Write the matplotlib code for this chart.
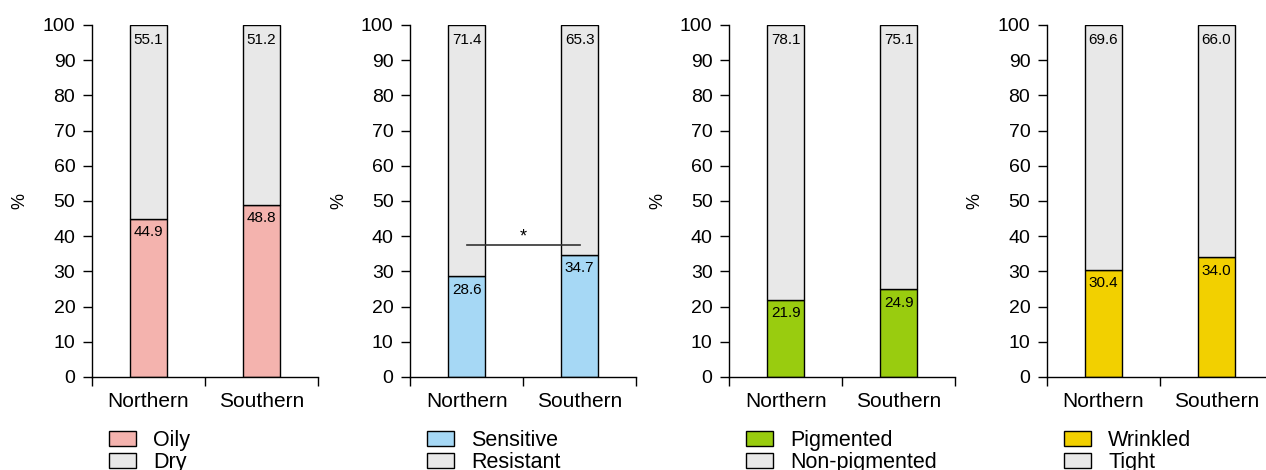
import matplotlib.pyplot as plt
from matplotlib.patches import Patch
import numpy as np

plt.rcParams['font.family'] = ['Liberation Sans', 'DejaVu Sans']

# data
regions = ['Northern', 'Southern']
oily = [44.9, 48.8]
dry = [55.1, 51.2]
sensitive = [28.6, 34.7]
resistant = [71.4, 65.3]
pigmented = [21.9, 24.9]
non_pigmented = [78.1, 75.1]
wrinkled = [30.4, 34.0]
tight = [69.6, 66.0]

panels = [
    (oily, dry, 'Oily', 'Dry', '#F4B3AE'),
    (sensitive, resistant, 'Sensitive', 'Resistant', '#A6D8F5'),
    (pigmented, non_pigmented, 'Pigmented', 'Non-pigmented', '#99CC0F'),
    (wrinkled, tight, 'Wrinkled', 'Tight', '#F2D000'),
]
grey = '#E8E8E8'

fig = plt.figure(figsize=(12.66, 4.70), dpi=100)
lefts = [0.0727, 0.324, 0.576, 0.827]
x = np.array([0.5, 1.5])

for i, (low, high, low_name, high_name, col) in enumerate(panels):
    ax = fig.add_axes([lefts[i], 0.198, 0.1785, 0.749])
    ax.bar(x, low, width=0.33, color=col, edgecolor='black', linewidth=1)
    ax.bar(x, high, width=0.33, bottom=low, color=grey, edgecolor='black', linewidth=1)
    for xi, lo in zip(x, low):
        ax.text(xi, lo - 1.8, f'{lo:.1f}', ha='center', va='top', fontsize=11)
    for xi, hi in zip(x, high):
        ax.text(xi, 97.8, f'{hi:.1f}', ha='center', va='top', fontsize=11)

    ax.set_xlim(0, 2)
    ax.set_ylim(0, 100)
    ax.set_yticks(range(0, 101, 10))
    ax.set_xticks([0, 1, 2])
    ax.set_xticklabels([])
    ax.set_xticks(x, minor=True)
    ax.set_xticklabels(regions, minor=True, fontsize=15)
    ax.tick_params(axis='x', which='minor', length=0, pad=11)
    ax.tick_params(axis='x', which='major', length=6.5, width=1)
    ax.tick_params(axis='y', labelsize=14, length=6.5, width=1, pad=5.5)
    for s in ['top', 'right']:
        ax.spines[s].set_visible(False)
    ax.spines['left'].set_linewidth(1)
    ax.spines['bottom'].set_linewidth(1)
    ax.set_ylabel('%', fontsize=13, labelpad=10)

    if i == 1:
        ax.plot([0.5, 1.5], [37.5, 37.5], color='#333333', linewidth=1.2, zorder=5)
        ax.text(1.0, 39.8, '*', ha='center', va='center', fontsize=13)

    handles = [Patch(facecolor=col, edgecolor='black', linewidth=1),
               Patch(facecolor=grey, edgecolor='black', linewidth=1)]
    ax.legend(handles, [low_name, high_name], loc='upper left',
              bbox_to_anchor=(0.075, -0.15), frameon=False, fontsize=15.5,
              handlelength=1.26, handleheight=0.7, labelspacing=0.08,
              handletextpad=0.8, borderaxespad=0, borderpad=0)

fig.savefig('out.png', dpi=100)
